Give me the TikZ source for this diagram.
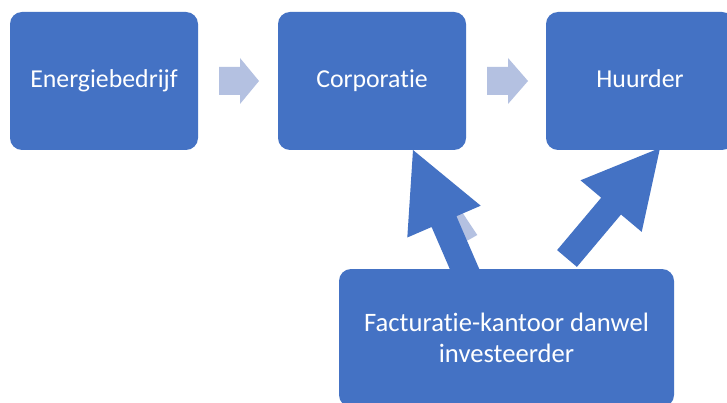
\documentclass[tikz,border=0pt]{standalone}
\usepackage{fontspec}
\setmainfont{Carlito}[Ligatures=NoCommon]
\usetikzlibrary{calc}
\definecolor{boxblue}{RGB}{68,114,196}
\definecolor{lightarrow}{RGB}{180,193,225}
\newcommand{\nolig}{\kern0pt }
\begin{document}
\begin{tikzpicture}[x=1pt,y=-1pt,
  box/.style={fill=boxblue, rounded corners=12pt, text=white,
    font=\fontsize{25.8}{30.4}\selectfont, align=center, inner sep=0pt,
    minimum width=188pt, minimum height=138pt},
  topbox/.style={box, text height=19.4pt, text depth=6pt},
  chevron/.style={fill=lightarrow},
  blockarrow/.style={fill=boxblue}]
\useasboundingbox (0,0) rectangle (727,403);
\clip (0,0) rectangle (727,403);
\fill[white] (0,0) rectangle (727,403);
% top row
\node[topbox] (ener) at (104,81) {Energiebedrijf};
\node[topbox] (corp) at (372,81) {Corporat\nolig ie};
\node[topbox] (huur) at (640,81) {Huurder};
% chevrons
\coordinate (c1) at ($(ener.east)!0.5!(corp.west)$);
\coordinate (c2) at ($(corp.east)!0.5!(huur.west)$);
\fill[chevron, shift={(c1)}] (-19,-14) -- (2,-14) -- (2,-23) -- (21,0) -- (2,23) -- (2,14) -- (-19,14) -- cycle;
\fill[chevron, shift={(c2)}] (-19,-14) -- (2,-14) -- (2,-23) -- (22,0) -- (2,23) -- (2,14) -- (-19,14) -- cycle;
% faint arrow behind
\fill[chevron] (450,214) -- (462,212) -- (477.3,235) -- (468.5,240) -- (455,245) -- cycle;
% big arrows
\fill[blockarrow] (413,150) -- (480.7,205.7) -- (456.4,216.2) -- (486,284.6) -- (461.2,295.4) -- (431.6,227.0) -- (407.3,237.5) -- cycle;
\fill[blockarrow] (660,148) -- (641.7,231.9) -- (621.0,214.5) -- (576.9,266.9) -- (557.1,250.1) -- (601.2,197.7) -- (580.5,180.3) -- cycle;
% bottom box
\node[box, minimum width=335pt, font=\fontsize{26.6}{30.4}\selectfont] (fact) at (506.5,338) {Facturat\nolig ie-kantoor danwel\\investeerder};
\end{tikzpicture}
\end{document}
